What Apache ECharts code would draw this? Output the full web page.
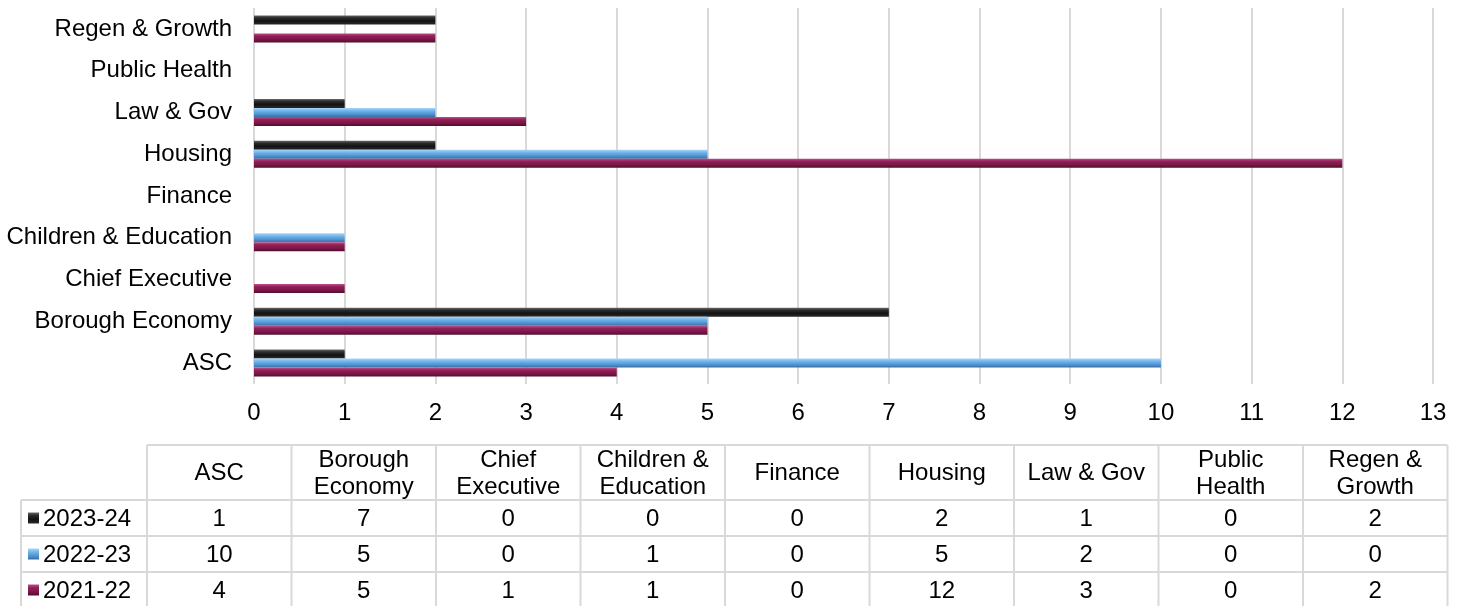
<!DOCTYPE html>
<html>
<head>
<meta charset="utf-8">
<script src="https://cdn.jsdelivr.net/npm/echarts@6/dist/echarts.min.js"></script>
<style>
html,body{margin:0;padding:0;background:#fff;}
#chart{width:1462px;height:606px;}
</style>
</head>
<body>
<div id="chart"></div>
<script>
// ---- data ----
const categories = ['ASC','Borough Economy','Chief Executive','Children & Education','Finance','Housing','Law & Gov','Public Health','Regen & Growth'];
const tableHeaders = ['ASC','Borough\nEconomy','Chief\nExecutive','Children &\nEducation','Finance','Housing','Law & Gov','Public\nHealth','Regen &\nGrowth'];
const seriesNames = ['2023-24','2022-23','2021-22'];
const values2021_22 = [4,5,1,1,0,12,3,0,2];
const values2022_23 = [10,5,0,1,0,5,2,0,0];
const values2023_24 = [1,7,0,0,0,2,1,0,2];
const xTicks = [0,1,2,3,4,5,6,7,8,9,10,11,12,13];

// ---- style ----
const FONT = '"Liberation Sans", Arial, sans-serif';
const gradStops = {
  '2023-24': [['#6a6a6a',0],['#2e2e2e',0.25],['#121212',0.6],['#2a2a2a',1]],
  '2022-23': [['#a8d6f7',0],['#72b6ec',0.3],['#4d92cf',0.7],['#3a6e9c',1]],
  '2021-22': [['#b8518a',0],['#931f58',0.3],['#7a1646',0.7],['#4e0d2c',1]]
};
function grad(name){
  return new echarts.graphic.LinearGradient(0,0,0,1,
    gradStops[name].map(s=>({color:s[0],offset:s[1]})));
}

const chart = echarts.init(document.getElementById('chart'), null, {renderer:'canvas'});

const seriesData = {'2021-22':values2021_22,'2022-23':values2022_23,'2023-24':values2023_24};

// ---- table (built from the data arrays) ----
const tbl = {x0:147, colW:144.5, rowLabelX:21, top:445, headBottom:500, rowH:36};
const tableRows = ['2023-24','2022-23','2021-22'];
const lineStyle = {stroke:'#d9d9d9', lineWidth:2};
const graphics = [];
const nCols = tableHeaders.length;
const right = tbl.x0 + nCols*tbl.colW;
const bottom = tbl.headBottom + tableRows.length*tbl.rowH;
graphics.push({type:'line', shape:{x1:tbl.x0,y1:tbl.top,x2:right,y2:tbl.top}, style:lineStyle});
for(let r=0;r<=tableRows.length;r++){
  const y = tbl.headBottom + r*tbl.rowH;
  graphics.push({type:'line', shape:{x1:tbl.rowLabelX,y1:y,x2:right,y2:y}, style:lineStyle});
}
graphics.push({type:'line', shape:{x1:tbl.rowLabelX,y1:tbl.headBottom,x2:tbl.rowLabelX,y2:bottom}, style:lineStyle});
for(let c=0;c<=nCols;c++){
  const x = tbl.x0 + c*tbl.colW;
  graphics.push({type:'line', shape:{x1:x,y1:tbl.top,x2:x,y2:bottom}, style:lineStyle});
}
function txt(text,x,y,align){
  return {type:'text', style:{text:text, x:x, y:y, align:align, textAlign:align,
    verticalAlign:'middle', textVerticalAlign:'middle', font:'24px '+FONT, lineHeight:27, fill:'#000'}};
}
tableHeaders.forEach((h,c)=>{
  graphics.push(txt(h, tbl.x0 + (c+0.5)*tbl.colW, (tbl.top+tbl.headBottom)/2 + 1, 'center'));
});
tableRows.forEach((name,r)=>{
  const yc = tbl.headBottom + (r+0.5)*tbl.rowH;
  graphics.push({type:'rect', shape:{x:28,y:yc-5.5,width:11,height:11}, style:{fill:grad(name)}});
  graphics.push(txt(name, 43, yc+1, 'left'));
  seriesData[name].forEach((v,c)=>{
    graphics.push(txt(String(v), tbl.x0 + (c+0.5)*tbl.colW, yc+1, 'center'));
  });
});

const option = {
  backgroundColor:'#fff',
  animation:false,
  grid:{left:254, right:29, top:8, bottom:222, containLabel:false},
  xAxis:{
    type:'value', min:xTicks[0], max:xTicks[xTicks.length-1], interval:1,
    axisLine:{show:false}, axisTick:{show:false},
    splitLine:{show:true, lineStyle:{color:'#d9d9d9', width:2}},
    axisLabel:{fontSize:24, fontFamily:FONT, color:'#000', margin:17}
  },
  yAxis:{
    type:'category', data:categories,
    axisLine:{show:false}, axisTick:{show:false}, splitLine:{show:false},
    axisLabel:{fontSize:24, fontFamily:FONT, color:'#000', margin:22}
  },
  series: seriesNames.map(name=>({
    name:name, type:'bar', data:seriesData[name],
    barWidth:9, barGap:'0%',
    itemStyle:{color:grad(name)}
  })),
  graphic: graphics
};
chart.setOption(option);
</script>
</body>
</html>
